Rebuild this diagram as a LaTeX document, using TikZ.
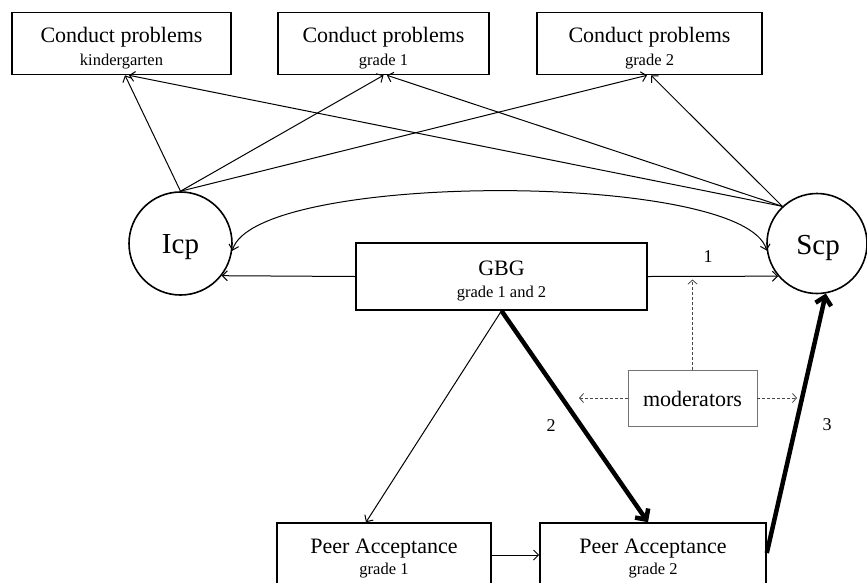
\documentclass[tikz,border=0pt]{standalone}
\usepackage{fontspec}
\setmainfont{Liberation Serif}
\usetikzlibrary{arrows.meta}
\begin{document}
\begin{tikzpicture}[x=1pt,y=-1pt,
  cpbox/.style={draw, line width=1.6pt, rectangle, inner sep=0pt},
  modbox/.style={draw=black!55, line width=0.9pt, rectangle, inner sep=0pt},
  latent/.style={draw, line width=1.6pt, circle, inner sep=0pt},
  bigtxt/.style={anchor=base, inner sep=0pt, font=\fontsize{22}{26}\selectfont},
  smalltxt/.style={anchor=base, inner sep=0pt, font=\fontsize{16.5}{20}\selectfont},
  latxt/.style={anchor=base, inner sep=0pt, font=\fontsize{29}{33}\selectfont},
  numtxt/.style={anchor=base, inner sep=0pt, font=\fontsize{18}{22}\selectfont},
  arr/.style={line width=1pt, -{Straight Barb[length=5pt,width=10pt]}},
  dblarr/.style={line width=1pt, {Straight Barb[length=5pt,width=10pt]}-{Straight Barb[length=5pt,width=10pt]}},
  thickarr/.style={line width=4.5pt, -{Straight Barb[length=8pt,width=16pt]}},
  dasharr/.style={draw=black!72, line width=0.8pt, dash pattern=on 3pt off 2pt, -{Straight Barb[length=4pt,width=9pt]}},
]
\useasboundingbox (0,0) rectangle (867,582);
\clip (0,0) rectangle (867,582);

% outcome boxes
\node[cpbox, minimum width=219pt, minimum height=62pt] (ck) at (121.5,43.5) {};
\node[cpbox, minimum width=211pt, minimum height=62pt] (cg1) at (383.5,43.5) {};
\node[cpbox, minimum width=225pt, minimum height=62pt] (cg2) at (649.5,43.5) {};
\node[bigtxt] (ckA) at (121.5,42) {Conduct problems};
\node[smalltxt] (ckB) at (121.5,65.5) {kindergarten};
\node[bigtxt] (cg1A) at (383.5,42) {Conduct problems};
\node[smalltxt] (cg1B) at (383.5,65.5) {grade 1};
\node[bigtxt] (cg2A) at (649.5,42) {Conduct problems};
\node[smalltxt] (cg2B) at (649.5,65.5) {grade 2};

% growth factors
\node[latent, minimum size=103pt] (Icp) at (180.5,243.5) {};
\node[latent, minimum size=100pt] (Scp) at (817,243.5) {};
\node[latxt] (IcpT) at (180.5,253) {Icp};
\node[latxt] (ScpT) at (818,254) {Scp};

% intervention
\node[cpbox, minimum width=291pt, minimum height=67pt] (gbg) at (501.5,276.5) {};
\node[bigtxt] (gbgA) at (501.5,275) {GBG};
\node[smalltxt] (gbgB) at (501.5,297) {grade 1 and 2};

% moderators
\node[modbox, minimum width=129pt, minimum height=56pt] (mod) at (692.5,398) {};
\node[bigtxt] (modT) at (692.5,406) {moderators};

% peer acceptance
\node[cpbox, minimum width=214pt, minimum height=90pt] (pa1) at (384,568) {};
\node[cpbox, minimum width=226pt, minimum height=90pt] (pa2) at (653,568) {};
\node[bigtxt] (pa1A) at (384,553) {Peer Acceptance};
\node[smalltxt] (pa1B) at (384,574) {grade 1};
\node[bigtxt] (pa2A) at (653,553) {Peer Acceptance};
\node[smalltxt] (pa2B) at (653,574) {grade 2};

% loadings
\draw[arr] (Icp.north) -- ([xshift=3.5pt]ck.south);
\draw[arr] (Icp.north) -- (cg1.south);
\draw[arr] (Icp.north) -- ([xshift=-2.5pt]cg2.south);
\draw[arr] (Scp.133) -- ([xshift=7.5pt]ck.south);
\draw[arr] (Scp.133) -- ([xshift=3.5pt]cg1.south);
\draw[arr] (Scp.133) -- ([xshift=1.5pt]cg2.south);

% covariance
\draw[dblarr] (Icp.-8) .. controls (255,171) and (745,171) .. (Scp.188);

% intervention effects
\draw[arr] (gbg.west) -- (Icp.-38);
\draw[arr] (gbg.east) -- (Scp.220);
\node[numtxt] (n1) at (708,262) {1};
\draw[arr] (gbg.south) -- ([xshift=-18pt]pa1.north);
\draw[thickarr] (gbg.south) -- ([xshift=-5pt]pa2.north);
\node[numtxt] (n2) at (551,431) {2};
\draw[arr] ([yshift=13pt]pa1.east) -- ([yshift=13pt]pa2.west);
\draw[thickarr] ([yshift=15pt]pa2.east) -- (Scp.-80);
\node[numtxt] (n3) at (827,430) {3};

% moderation
\coordinate (modL) at (579,398);
\coordinate (modR) at (797,398);
\draw[dasharr] (mod.north) -- ([yshift=-3pt]mod.north |- gbg.east);
\draw[dasharr] (mod.west) -- (modL);
\draw[dasharr] (mod.east) -- (modR);
\end{tikzpicture}
\end{document}
